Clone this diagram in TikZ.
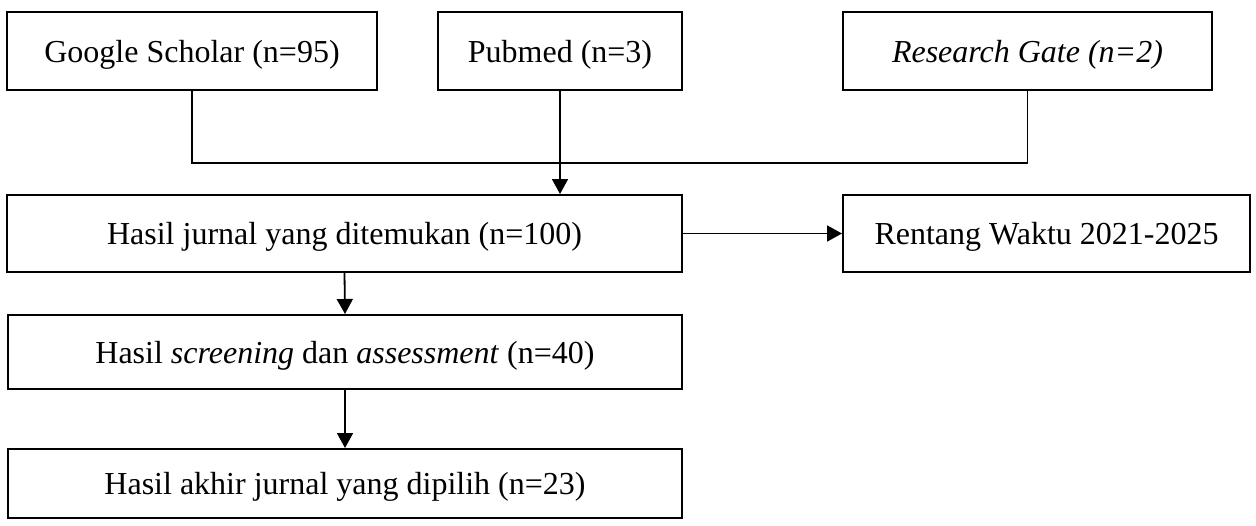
\documentclass[tikz,border=0pt]{standalone}
\usepackage{fontspec}
\setmainfont{Liberation Serif}
\usetikzlibrary{arrows.meta}

\begin{document}
\begin{tikzpicture}[x=0.5pt, y=-0.5pt]
  \tikzstyle{kotak}=[draw, line width=1pt, inner sep=0pt, text depth=0pt, font=\fontsize{16}{19}\selectfont, minimum height=39pt]
  \tikzstyle{garis}=[line width=0.9pt]
  \tikzstyle{panah}=[line width=0.9pt, -{Triangle[length=7.5pt,width=8pt]}]
  \useasboundingbox (0,0) rectangle (1256,525);

  % sumber pencarian
  \node[kotak, minimum width=185pt] (gs) at (192,51) {Google Scholar (n=95)};
  \node[kotak, minimum width=122pt] (pm) at (560,51) {Pubmed (n=3)};
  \node[kotak, minimum width=184.5pt] (rg) at (1027.5,51) {\textit{Research Gate (n=2)}};

  % hasil
  \node[kotak, minimum width=337.5pt, minimum height=38.5pt] (hj) at (344.5,233.5) {Hasil jurnal yang ditemukan (n=100)};
  \node[kotak, minimum width=203.5pt, minimum height=38.5pt] (rw) at (1046.5,233.5) {Rentang Waktu 2021-2025};
  \node[kotak, minimum width=337pt, minimum height=37pt] (sc) at (345,352) {Hasil \textit{screening} dan \textit{assessment} (n=40)};
  \node[kotak, minimum width=337pt, minimum height=34.5pt] (ak) at (345,483.5) {Hasil akhir jurnal yang dipilih (n=23)};

  \coordinate (gabung) at (0,163);
  \draw[garis] (gs.south) -- (gs.south |- gabung) -- (rg.south |- gabung) -- (rg.south);
  \draw[panah] (pm.south) -- (pm.south |- hj.north);
  \draw[panah] (hj.east) -- (rw.west);
  \draw[panah] (hj.south) -- (sc.north);
  \draw[panah] (sc.south) -- (ak.north);
\end{tikzpicture}
\end{document}
